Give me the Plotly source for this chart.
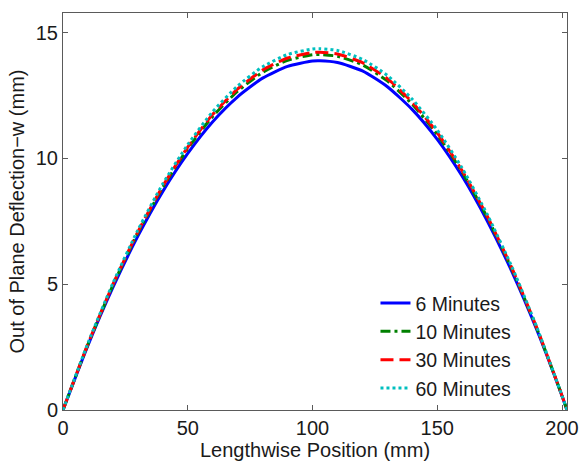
import plotly.graph_objects as go

position_mm = [0, 10, 20, 30, 40, 50, 60, 70, 80, 90, 100, 103, 110, 120, 130, 140, 150, 160, 170, 180, 190, 200, 202]

w_6min = [0, 2.57, 4.87, 6.91, 8.69, 10.20, 11.46, 12.45, 13.19, 13.66, 13.87, 13.88, 13.81, 13.48, 12.85, 11.94, 10.76, 9.29, 7.52, 5.48, 3.16, 0.56, 0]
w_10min = [0, 2.61, 4.96, 7.04, 8.85, 10.39, 11.67, 12.67, 13.42, 13.90, 14.12, 14.13, 14.06, 13.72, 13.08, 12.15, 10.95, 9.45, 7.66, 5.58, 3.22, 0.57, 0]
w_30min = [0, 2.63, 4.99, 7.08, 8.90, 10.45, 11.75, 12.76, 13.51, 13.99, 14.21, 14.22, 14.15, 13.81, 13.17, 12.23, 11.02, 9.51, 7.71, 5.62, 3.24, 0.57, 0]
w_60min = [0, 2.66, 5.04, 7.15, 8.99, 10.55, 11.86, 12.88, 13.64, 14.13, 14.35, 14.36, 14.29, 13.94, 13.30, 12.35, 11.13, 9.61, 7.78, 5.67, 3.27, 0.57, 0]

series_names = ["6 Minutes", "10 Minutes", "30 Minutes", "60 Minutes"]
series_values = [w_6min, w_10min, w_30min, w_60min]
colors = ["#0000FF", "#008000", "#FF0000", "#00BFBF"]
dashes = ["solid", "10px,4px,3px,4px", "13px,6px", "3px,3px"]

x_ticks = [0, 50, 100, 150, 200]
y_ticks = [0, 5, 10, 15]

fig = go.Figure()
for name, vals, c, d in zip(series_names, series_values, colors, dashes):
    fig.add_trace(go.Scatter(
        x=position_mm, y=vals, mode="lines", name=name,
        line=dict(color=c, width=3, dash=d, shape="spline", smoothing=0.6),
    ))

font_family = "Liberation Sans, Arial, Helvetica, sans-serif"
txt_color = "#1a1a1a"
axis_common = dict(
    showline=True, linecolor="#5a5a5a", linewidth=1, mirror="ticks",
    ticks="inside", ticklen=5, tickcolor="#5a5a5a", tickwidth=1,
    showgrid=False, zeroline=False, automargin=False,
    tickfont=dict(family=font_family, size=20, color=txt_color),
)

fig.update_layout(
    width=580, height=463,
    margin=dict(l=63, r=13, t=13, b=53),
    paper_bgcolor="white", plot_bgcolor="white",
    font=dict(family=font_family, size=20, color=txt_color),
    showlegend=True,
    legend=dict(
        x=0.62, y=0.318, xanchor="left", yanchor="top",
        bgcolor="rgba(255,255,255,0)", borderwidth=0,
        font=dict(family=font_family, size=19.5, color=txt_color),
        tracegroupgap=0,
    ),
    xaxis=dict(
        range=[0, 202], tickvals=x_ticks,
        title=dict(text="Lengthwise Position (mm)", standoff=1,
                   font=dict(family=font_family, size=20, color=txt_color)),
        **axis_common,
    ),
    yaxis=dict(
        range=[0, 15.78], tickvals=y_ticks,
        title=dict(text="Out of Plane Deflection\u2212w (mm)", standoff=5,
                   font=dict(family=font_family, size=20, color=txt_color)),
        **axis_common,
    ),
)

fig.write_html("out.html")
